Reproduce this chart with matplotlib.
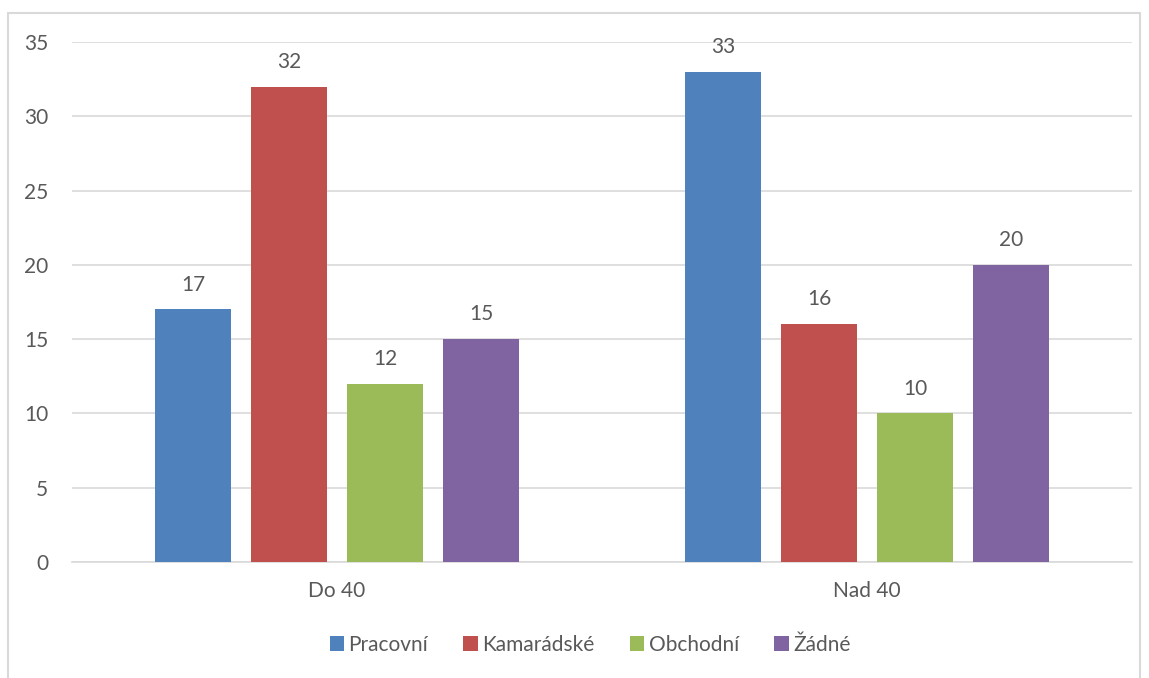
import matplotlib
matplotlib.use('Agg')
import matplotlib.pyplot as plt
from matplotlib.patches import Rectangle
import numpy as np

categories = ['Do 40', 'Nad 40']
series_names = ['Pracovní', 'Kamarádské', 'Obchodní', 'Žádné']
values = {
	'Pracovní': [17, 33],
	'Kamarádské': [32, 16],
	'Obchodní': [12, 10],
	'Žádné': [15, 20],
}
colors = ['#4F81BD', '#C0504D', '#9BBB59', '#8064A2']
yticks = [0, 5, 10, 15, 20, 25, 30, 35]

plt.rcParams['font.family'] = ['Lato', 'DejaVu Sans']
text_color = '#595959'
fs = 15

fig = plt.figure(figsize=(11.49, 6.78), dpi=100)
ax = fig.add_axes([72 / 1149, 116 / 678, 1060 / 1149, 520 / 678])

# outer chart border
fig.patches.append(Rectangle((8 / 1149, -0.05), 1132 / 1149, (678 - 13) / 678 + 0.05,
							 transform=fig.transFigure, fill=False,
							 edgecolor='#D9D9D9', linewidth=1.5))

x = np.arange(len(categories))
width = 0.1434
step = 0.1811
for i, name in enumerate(series_names):
	offs = (i - 1.5) * step
	bars = ax.bar(x + offs, values[name], width, color=colors[i], label=name, zorder=3)
	for b, v in zip(bars, values[name]):
		ax.text(b.get_x() + b.get_width() / 2, v + 1.0, str(v), ha='center', va='bottom',
				fontsize=fs, color=text_color)

ax.set_xlim(-0.5, 1.5)
ax.set_ylim(0, 35)
ax.set_yticks(yticks)
ax.set_xticks(x)
ax.set_xticklabels(categories)
ax.yaxis.grid(True, color='#D9D9D9', linewidth=1.2, zorder=0)
ax.set_axisbelow(True)
for s in ['top', 'right', 'left']:
	ax.spines[s].set_visible(False)
ax.spines['bottom'].set_color('#D9D9D9')
ax.spines['bottom'].set_linewidth(1.2)
ax.tick_params(axis='both', length=0, labelsize=fs, colors=text_color)
ax.tick_params(axis='y', pad=17)
ax.tick_params(axis='x', pad=14)

leg = fig.legend(loc='center', bbox_to_anchor=(590 / 1149, 1 - 645 / 678), ncol=4,
				 frameon=False, fontsize=fs, handlelength=0.7, handleheight=0.7,
				 handletextpad=0.2, columnspacing=1.7)
for t in leg.get_texts():
	t.set_color(text_color)

fig.savefig('out.png', dpi=100)
